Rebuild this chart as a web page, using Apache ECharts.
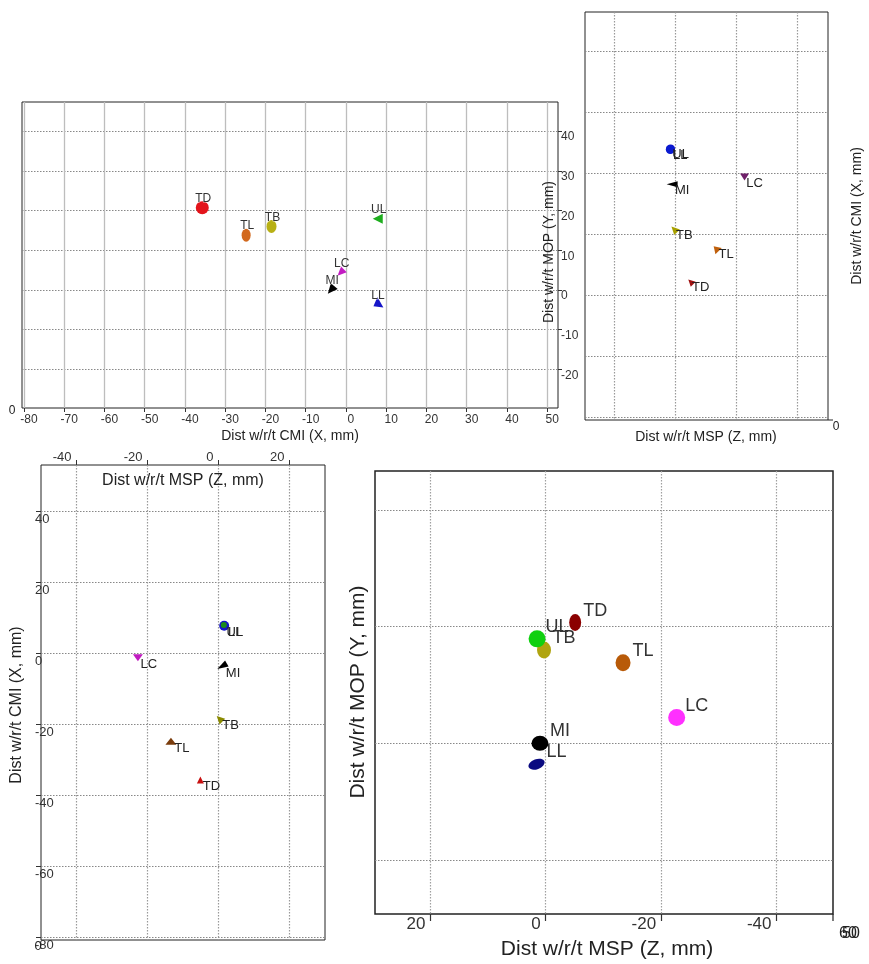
<!DOCTYPE html>
<html><head><meta charset="utf-8">
<script src="https://cdn.jsdelivr.net/npm/echarts@6/dist/echarts.min.js"></script>
<style>html,body{margin:0;padding:0;background:#fff}#c{width:869px;height:964px}</style>
</head><body><div id="c"></div>
<script>
// ---- data ----
const landmarks = ['TD','TL','TB','UL','LC','MI','LL'];
const cmiX = [-35.7,-24.8,-18.5,7.9,-1.3,-3.7,7.7];   // Dist w/r/t CMI (X, mm)
const mopY = [20.7,13.8,16.0,17.9,4.4,0.0,-3.6];      // Dist w/r/t MOP (Y, mm)
const mspZ = [-5.1,-13.4,0.3,1.5,-22.7,1.0,1.6];      // Dist w/r/t MSP (Z, mm)

const ticksA_X = [-80,-70,-60,-50,-40,-30,-20,-10,0,10,20,30,40,50];
const ticksA_Y = [-20,-10,0,10,20,30,40];
const ticksB_Z = [20,0,-20,-40];
const ticksB_X = [40,20,0,-20,-40,-60,-80];
const ticksC_Z = [-40,-20,0,20];
const ticksC_X = [40,20,0,-20,-40,-60,-80];
const ticksD_Z = [20,0,-20,-40];
const ticksD_Y = [40,20,0,-20];

// ---- styles (per landmark index) ----
const FF = '"Liberation Sans", Arial, sans-serif';
const styleA = {
  color: ['#e3141b','#d2691e','#b8b014','#1fae1f','#c21cc2','#000000','#1616c8'],
  symbol:['circle','circle','circle','triangle','triangle','triangle','triangle'],
  size:  [13,[9,13],[10,13],[10,10],[8,9],[9,10],[12,8]],
  rot:   [0,0,0,90,135,140,120]
};
const styleB = {
  color: ['#a01010','#c0600c','#a8a000','#1010c8','#70206a','#000000','#0a1ad0'],
  symbol:['triangle','triangle','triangle','circle','triangle','triangle','circle'],
  size:  [7,[9,7],[8,8],9,[9,7],[6,11],9],
  rot:   [45,45,45,0,180,90,0]
};
const styleC = {
  color: ['#c81010','#7a3c0c','#8a8a00','#1a8a1a','#c01cc0','#000000','#1414c8'],
  symbol:['triangle','triangle','triangle','circle','triangle','triangle','circle'],
  size:  [7,[11,7],[8,8],6,[10,7],[7,11],10],
  rot:   [0,0,45,0,180,120,0]
};
const styleD = {
  color: ['#8b0000','#b85a08','#b0a410','#10d010','#ff30ff','#000000','#0a0a80'],
  symbol:['circle','circle','circle','circle','circle','circle','circle'],
  size:  [[12,17],[15,17],[14,17],17,17,[17,15],[17,10]],
  rot:   [0,0,0,0,0,0,20]
};

function buildData(order, xs, ys, st) {
  return order.map(i => ({
    value: [xs[i], ys[i]],
    name: landmarks[i],
    symbol: st.symbol[i],
    symbolSize: st.size[i],
    symbolRotate: st.rot[i],
    itemStyle: { color: st.color[i], opacity: 1 }
  }));
}

const grids = [
  { left: 22, top: 102, width: 536, height: 306 },   // A
  { left: 585, top: 12, width: 243, height: 408 },   // B
  { left: 41, top: 465, width: 284, height: 475 },   // C
  { left: 375, top: 471, width: 458, height: 443 }   // D
].map(g => Object.assign({ show: true, borderColor: '#222', borderWidth: 1, backgroundColor: 'transparent' }, g));
grids[3].borderWidth = 1.5;

const dotted = (c) => ({ show: true, lineStyle: { color: c || '#8a8a8a', type: [1.5, 1.5], width: 1.2 } });
const noLine = { show: false, onZero: false };

const xAxes = [
  { gridIndex: 0, type: 'value', min: -80.5, max: 52.7, position: 'bottom',
    axisLine: noLine,
    axisTick: { show: true, customValues: ticksA_X, length: 4, lineStyle: { color: '#333' } },
    axisLabel: { customValues: ticksA_X, fontSize: 12, color: '#333', fontFamily: FF, margin: 6, padding: [0, 0, 0, 10] },
    splitLine: { show: true, lineStyle: { color: '#bdbdbd', width: 1.3 } } },
  { gridIndex: 1, type: 'value', inverse: true, min: -50, max: 29.5,
    axisLine: noLine,
    axisTick: { show: false, customValues: ticksB_Z },
    axisLabel: { show: false, customValues: ticksB_Z },
    splitLine: dotted('#999') },
  { gridIndex: 2, type: 'value', min: -50, max: 30, position: 'top',
    axisLine: noLine,
    axisTick: { show: true, customValues: ticksC_Z, length: 5, lineStyle: { color: '#333' } },
    axisLabel: { customValues: ticksC_Z, fontSize: 13, color: '#333', fontFamily: FF, margin: 1, align: 'right', padding: [0, 5, 0, 0] },
    splitLine: dotted('#999') },
  { gridIndex: 3, type: 'value', inverse: true, min: -49.8, max: 29.6, position: 'bottom',
    axisLine: noLine,
    axisTick: { show: true, customValues: ticksD_Z, length: 7, lineStyle: { color: '#333', width: 1.2 } },
    axisLabel: { customValues: ticksD_Z, fontSize: 17, color: '#333', fontFamily: FF, margin: 2, align: 'right', padding: [0, 5, 0, 0] },
    splitLine: dotted('#a0a0a0') }
];

const yAxes = [
  { gridIndex: 0, type: 'value', min: -29.7, max: 47.3, position: 'right',
    axisLine: noLine,
    axisTick: { show: true, customValues: ticksA_Y, length: 4, lineStyle: { color: '#333' } },
    axisLabel: { customValues: ticksA_Y, fontSize: 12, color: '#333', fontFamily: FF, margin: 3, align: 'left', verticalAlign: 'top' },
    splitLine: dotted('#888') },
  { gridIndex: 1, type: 'value', min: -81, max: 52.8, position: 'right',
    axisLine: noLine,
    axisTick: { show: false, customValues: ticksB_X },
    axisLabel: { show: false, customValues: ticksB_X },
    splitLine: dotted('#888') },
  { gridIndex: 2, type: 'value', min: -80.8, max: 53, position: 'left',
    axisLine: noLine,
    axisTick: { show: true, customValues: ticksC_X, length: 5, lineStyle: { color: '#333' } },
    axisLabel: { customValues: ticksC_X, fontSize: 13, color: '#333', fontFamily: FF, margin: 6, align: 'left', verticalAlign: 'top', padding: [2, 0, 0, 0] },
    splitLine: dotted('#888') },
  { gridIndex: 3, type: 'value', min: -29.3, max: 46.7, position: 'left',
    axisLine: noLine,
    axisTick: { show: false, customValues: ticksD_Y },
    axisLabel: { show: false, customValues: ticksD_Y },
    splitLine: dotted('#888') }
];

const idx = [0,1,2,3,4,5,6];
const series = [
  { type: 'scatter', xAxisIndex: 0, yAxisIndex: 0,
    data: buildData(idx, cmiX, mopY, styleA),
    label: { show: true, formatter: '{b}', position: 'inside', offset: [1, -9], color: '#333', fontSize: 12, fontFamily: FF,
             textBorderColor: 'rgba(255,255,255,0.6)', textBorderWidth: 1 } },
  { type: 'scatter', xAxisIndex: 1, yAxisIndex: 1,
    data: buildData(idx, mspZ, cmiX, styleB),
    label: { show: true, formatter: '{b}', position: 'inside', offset: [10, 6], color: '#222', fontSize: 13, fontFamily: FF } },
  { type: 'scatter', xAxisIndex: 2, yAxisIndex: 2,
    data: buildData([0,1,2,4,5,6,3], mspZ, cmiX, styleC),
    label: { show: true, formatter: '{b}', position: 'inside', offset: [11, 7], color: '#222', fontSize: 13, fontFamily: FF } },
  { type: 'scatter', xAxisIndex: 3, yAxisIndex: 3,
    data: buildData([0,1,2,4,6,5,3], mspZ, mopY, styleD),
    label: { show: true, formatter: '{b}', position: 'inside', offset: [20, -12], color: '#333', fontSize: 18, fontFamily: FF } }
];

function txt(x, y, text, size, rot, extra) {
  return Object.assign({
    type: 'text', x: x, y: y, rotation: rot || 0, z: 100,
    style: { text: text, fontSize: size, fontFamily: FF, fill: '#222', align: 'center', verticalAlign: 'middle', textAlign: 'center', textVerticalAlign: 'middle' }
  }, extra || {});
}

const graphic = [
  // Panel A
  txt(290, 436, 'Dist w/r/t CMI (X, mm)', 14),
  txt(549, 252, 'Dist w/r/t MOP (Y, mm)', 14, Math.PI / 2),
  txt(12, 411, '0', 12),
  // Panel B
  txt(706, 437, 'Dist w/r/t MSP (Z, mm)', 14),
  txt(857, 216, 'Dist w/r/t CMI (X, mm)', 14, Math.PI / 2),
  txt(836, 427, '0', 12),
  { type: 'line', z: 100, shape: { x1: 828, y1: 420, x2: 833, y2: 420 }, style: { stroke: '#222', lineWidth: 1 } },
  // Panel C
  txt(183, 481, 'Dist w/r/t MSP (Z, mm)', 16),
  txt(17, 705, 'Dist w/r/t CMI (X, mm)', 16, Math.PI / 2),
  txt(38, 946, '0', 13),
  // Panel D
  txt(607, 949, 'Dist w/r/t MSP (Z, mm)', 21),
  txt(358, 692, 'Dist w/r/t MOP (Y, mm)', 21, Math.PI / 2),
  txt(848, 934, '60', 16),
  txt(851, 934, '50', 16),
  { type: 'line', z: 100, shape: { x1: 833, y1: 914, x2: 833, y2: 921 }, style: { stroke: '#222', lineWidth: 1.2 } }
];

const chart = echarts.init(document.getElementById('c'), null, { renderer: 'canvas' });
chart.setOption({
  animation: false,
  backgroundColor: '#fff',
  textStyle: { fontFamily: FF },
  grid: grids,
  xAxis: xAxes,
  yAxis: yAxes,
  series: series,
  graphic: graphic
});
</script></body></html>
